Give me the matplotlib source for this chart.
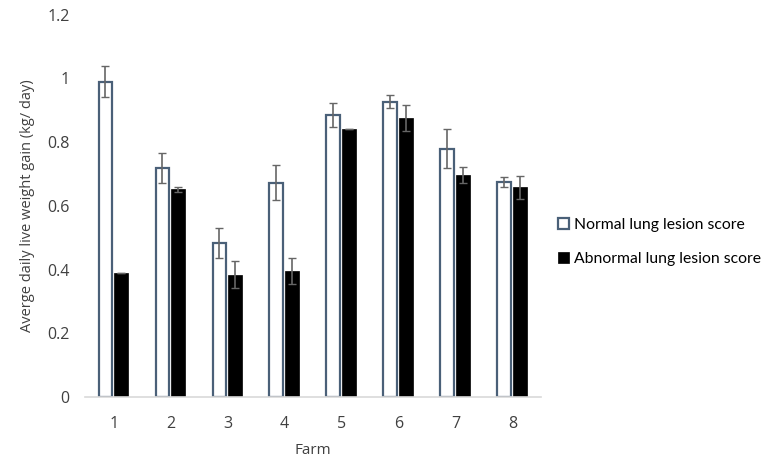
import numpy as np
import matplotlib.pyplot as plt

farms = ["1", "2", "3", "4", "5", "6", "7", "8"]
normal = [0.99, 0.72, 0.484, 0.673, 0.886, 0.927, 0.78, 0.676]
normal_err = [0.049, 0.047, 0.047, 0.056, 0.037, 0.02, 0.061, 0.016]
abnormal = [0.39, 0.652, 0.384, 0.395, 0.841, 0.876, 0.698, 0.658]
abnormal_err = [0.0, 0.008, 0.042, 0.04, 0.0, 0.041, 0.025, 0.035]

plt.rcParams['font.family'] = ['Open Sans', 'DejaVu Sans']

fig = plt.figure(figsize=(7.74, 4.61), dpi=100)
ax = fig.add_axes([0.110, 0.139, 0.589, 0.829])

x = np.arange(len(farms))
w = 0.24
err_kw = dict(ecolor="#666666", elinewidth=1.2, capsize=3, capthick=1.0)

ax.bar(x - 0.145, normal, w, yerr=normal_err, color="white", edgecolor="#4a6078",
       linewidth=1.6, error_kw=err_kw, label="Normal lung lesion score")
ax.bar(x + 0.135, abnormal, w, yerr=abnormal_err, color="black", edgecolor="black",
       linewidth=0.5, error_kw=err_kw, label="Abnormal lung lesion score")

ax.set_xlim(-0.5, 7.5)
ax.set_ylim(0, 1.2)
ax.set_xticks(x)
ax.set_xticklabels(farms)
ax.set_yticks([0, 0.2, 0.4, 0.6, 0.8, 1.0, 1.2])
ax.set_yticklabels(["0", "0.2", "0.4", "0.6", "0.8", "1", "1.2"])
ax.tick_params(axis="both", length=0, labelsize=11.5, colors="#404040")
ax.tick_params(axis="x", pad=14)
ax.tick_params(axis="y", pad=11)

for s in ["top", "right", "left"]:
    ax.spines[s].set_visible(False)
ax.spines["bottom"].set_color("#d9d9d9")
ax.spines["bottom"].set_linewidth(1.2)

ax.set_xlabel("Farm", fontsize=11, color="#404040", labelpad=8)
ax.set_ylabel("Averge daily live weight gain (kg/ day)", fontsize=10.5, color="#404040", labelpad=9)

fig.legend(loc="center left", bbox_to_anchor=(0.703, 0.475), frameon=False,
           prop={"family": ["Lato", "DejaVu Sans"], "size": 11.3},
           handlelength=0.7, handleheight=0.7, handletextpad=0.3, labelspacing=1.3)

plt.savefig("out.png", dpi=100)
